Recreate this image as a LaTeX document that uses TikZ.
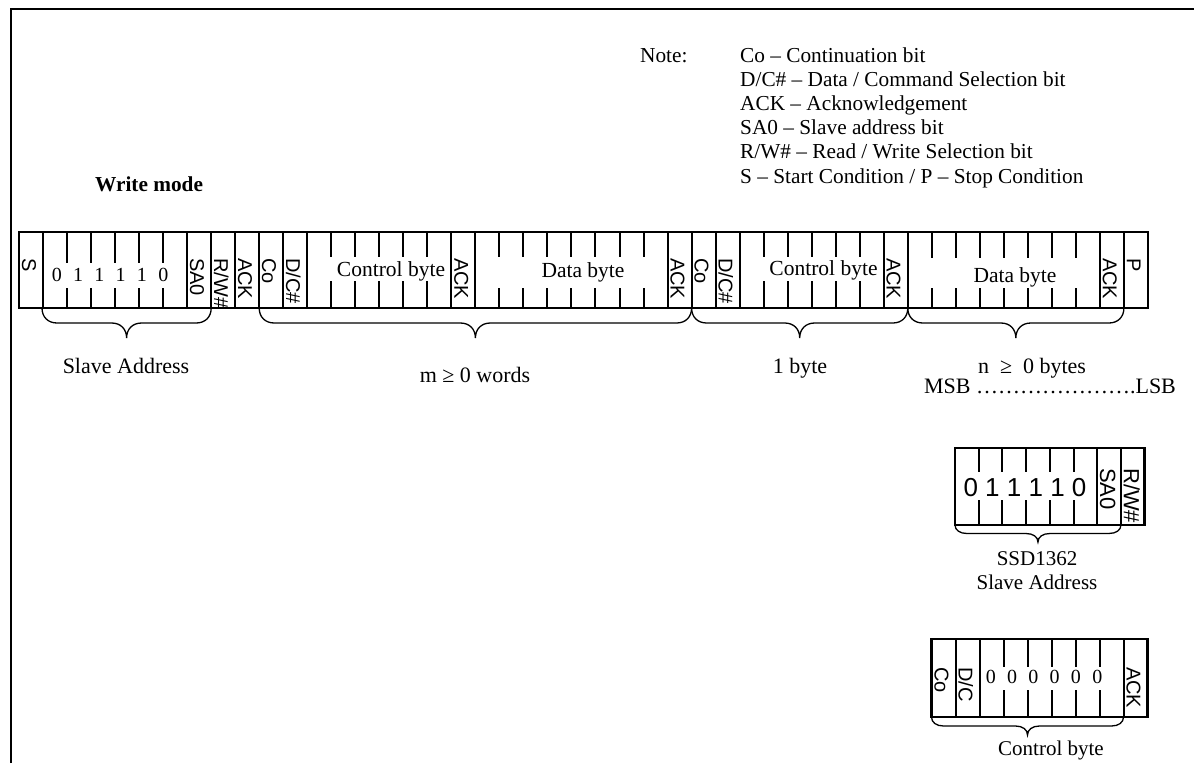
\documentclass[tikz,border=0pt]{standalone}
\usepackage{fontspec}
\setmainfont{Liberation Serif}
\newfontfamily\arialf{Liberation Sans}
\newcommand\bitlab[3]{\node[bitlbl] (#1) at ({19+(#2-1)*24.02+3},258) {#3};}
\newcommand\drawbrace[5]{%
  \pgfmathsetmacro\bxm{(#1+#2)/2}%
  \draw[brc] (#1,#3) .. controls (#1,{#3+0.3*#4}) and ({#1+0.4*#5},{#3+#4/2}) .. ({#1+#5},{#3+#4/2})
    -- ({\bxm-#5},{#3+#4/2}) .. controls ({\bxm-0.4*#5},{#3+#4/2}) and (\bxm,{#3+0.7*#4}) .. (\bxm,{#3+#4})
    .. controls (\bxm,{#3+0.7*#4}) and ({\bxm+0.4*#5},{#3+#4/2}) .. ({\bxm+#5},{#3+#4/2})
    -- ({#2-#5},{#3+#4/2}) .. controls ({#2-0.4*#5},{#3+#4/2}) and (#2,{#3+0.3*#4}) .. (#2,#3);}
\begin{document}
\begin{tikzpicture}[x=1pt,y=-1pt,
  frame/.style={line width=1.5pt},
  barline/.style={line width=2pt},
  barouter/.style={line width=2.5pt},
  bitlbl/.style={rotate=-90,anchor=base west,inner sep=0pt,font=\arialf\fontsize{20}{20}\selectfont},
  sbitlbl/.style={bitlbl,font=\arialf\fontsize{22}{22}\selectfont},
  cover/.style={fill=white,draw=none},
  fieldtxt/.style={anchor=base,inner sep=0pt,font=\fontsize{21.5}{24}\selectfont},
  lbl/.style={anchor=base,inner sep=0pt,font=\fontsize{22}{24}\selectfont},
  slbl/.style={anchor=base,inner sep=0pt,font=\fontsize{21}{24}\selectfont},
  notetxt/.style={anchor=base west,inner sep=0pt,font=\fontsize{21.3}{24}\selectfont},
  brc/.style={line width=1.3pt},
]
\fill[white] (0,0) rectangle (1194,763);
\useasboundingbox (0,0) rectangle (1194,763);
% frame
\draw[frame] (11,763) -- (11,9) -- (1194,9);

% note
\node[notetxt] (note) at (640,62) {Note:};
\node[notetxt] (n1) at (740,62) {Co – Continuation bit};
\node[notetxt] (n2) at (740,86.2) {D/C\# – Data / Command Selection bit};
\node[notetxt] (n3) at (740,110.4) {ACK – Acknowledgement};
\node[notetxt] (n4) at (740,134.6) {SA0 – Slave address bit};
\node[notetxt] (n5) at (740,158.8) {R/W\# – Read / Write Selection bit};
\node[notetxt] (n6) at (740,183) {S – Start Condition / P – Stop Condition};

\node[anchor=base west,inner sep=0pt,font=\bfseries\fontsize{21.3}{24}\selectfont] (wm) at (95,191) {Write mode};

% main bar
\foreach \i in {1,...,46} \draw[barline] ({19+\i*24.02},232) -- ({19+\i*24.02},308);
\fill[cover] ({19+1*24.02+1.5},263) rectangle ({19+7*24.02-1.5},288);
\fill[cover] ({19+13*24.02-1.5},257) rectangle ({19+18*24.02-1.5},281);
\fill[cover] ({19+20*24.02-1.5},257) rectangle ({19+27*24.02-1.5},288);
\fill[cover] ({19+31*24.02-1.5},257) rectangle ({19+36*24.02-1.5},281);
\fill[cover] ({19+38*24.02-1.5},258) rectangle ({19+45*24.02-1.5},288);
\draw[barouter] (19,232) rectangle ({19+47*24.02},308);

\node[anchor=base,inner sep=0pt,font=\fontsize{20}{24}\selectfont] (sabits) at (110,281)
  {0\kern11.3pt 1\kern11.3pt 1\kern11.3pt 1\kern11.3pt 1\kern11.3pt 0};
\node[fieldtxt] (ctl1) at (391,276.5) {Control byte};
\node[fieldtxt] (dat1) at (583,277) {Data byte};
\node[fieldtxt] (ctl2) at (823.5,275.7) {Control byte};
\node[fieldtxt] (dat2) at (1015,282.5) {Data byte};

\bitlab{bS}{1}{S}
\bitlab{bSA}{8}{SA0}
\bitlab{bRW}{9}{R/W\#}
\bitlab{bA1}{10}{ACK}
\bitlab{bCo1}{11}{Co}
\bitlab{bDC1}{12}{D/C\#}
\bitlab{bA2}{19}{ACK}
\bitlab{bA3}{28}{ACK}
\bitlab{bCo2}{29}{Co}
\bitlab{bDC2}{30}{D/C\#}
\bitlab{bA4}{37}{ACK}
\bitlab{bA5}{46}{ACK}
\bitlab{bP}{47}{P}

% braces under main bar
\drawbrace{42.0}{211.2}{308}{30}{15}
\drawbrace{259.2}{691.6}{308}{30}{15}
\drawbrace{691.6}{907.8}{308}{30}{15}
\drawbrace{907.8}{1123.9}{308}{30}{15}

\node[lbl] (lsa) at (126,373.5) {Slave Address};
\node[lbl] (lm) at (475,382) {m ≥ 0 words};
\node[lbl] (l1) at (800,373.5) {1 byte};
\node[lbl] (ln) at (1032,373.5) {n~~≥~~0 bytes};
\node[lbl] (lmsb) at (1050,393.5) {MSB ………………….LSB};

% small slave address box
\foreach \i in {1,...,7} \draw[barline] ({955+\i*23.7},448) -- ({955+\i*23.7},525);
\fill[cover] (956.5,472) rectangle ({955+6*23.7-1.5},500);
\draw[barouter] (955,448) rectangle ({955+8*23.7},525);
\node[anchor=base,inner sep=0pt,font=\arialf\fontsize{26}{28}\selectfont] (sbits) at (1025,496.7) {0 1 1 1 1 0};
\node[sbitlbl] (sSA) at ({955+6*23.7+3},468) {SA0};
\node[sbitlbl] (sRW) at ({955+7*23.7+3},468) {R/W\#};
\drawbrace{955}{1120.9}{525}{17}{12}
\node[slbl] (ssd) at (1037,565) {SSD1362};
\node[slbl] (ssa) at (1037,589) {Slave Address};

% small control byte box
\foreach \i in {1,...,8} \draw[barline] ({931.5+\i*24},639) -- ({931.5+\i*24},717);
\fill[cover] (981,667) rectangle (1122,690);
\draw[barouter] (931.5,639) rectangle ({931.5+9*24},717);
\node[anchor=base,inner sep=0pt,font=\fontsize{20}{24}\selectfont] (zeros) at (1044,683.5)
  {0\kern11.3pt 0\kern11.3pt 0\kern11.3pt 0\kern11.3pt 0\kern11.3pt 0};
\node[bitlbl] (cCo) at (934.5,667) {Co};
\node[bitlbl] (cDC) at (958.5,667) {D/C};
\node[bitlbl] (cA) at (1126.5,667) {ACK};
\drawbrace{931.5}{1123.5}{717}{18}{12}
\node[slbl] (cb) at (1051,755) {Control byte};
\end{tikzpicture}
\end{document}
